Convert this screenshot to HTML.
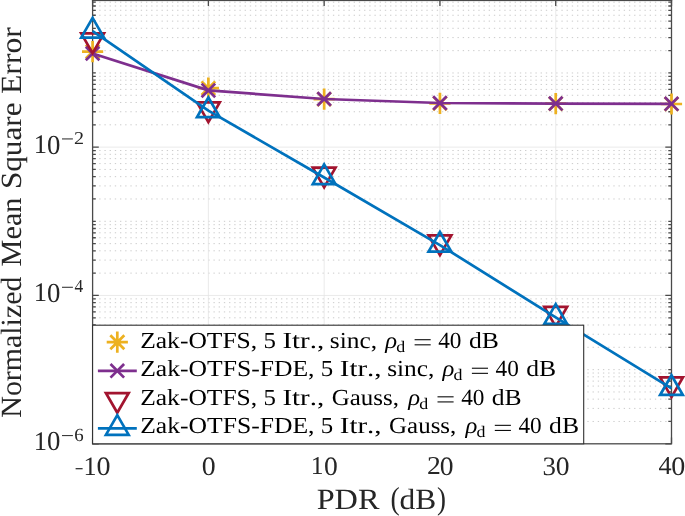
<!DOCTYPE html><html><head><meta charset="utf-8"><style>html,body{margin:0;padding:0;background:#fff;overflow:hidden;}svg{display:block;will-change:transform;}text{font-family:"Liberation Serif",serif;font-kerning:none;text-rendering:geometricPrecision;}</style></head><body>
<svg width="685" height="516" viewBox="0 0 685 516">
<rect x="0" y="0" width="685" height="516" fill="#fff"/>
<path d="M94.05 421.47H671.3M94.05 408.41H671.3M94.05 399.15H671.3M94.05 391.96H671.3M94.05 386.09H671.3M94.05 381.12H671.3M94.05 376.82H671.3M94.05 373.03H671.3M94.05 347.31H671.3M94.05 334.25H671.3M94.05 324.98H671.3M94.05 317.79H671.3M94.05 311.92H671.3M94.05 306.96H671.3M94.05 302.65H671.3M94.05 298.86H671.3M94.05 369.63H671.3M94.05 273.14H671.3M94.05 260.08H671.3M94.05 250.81H671.3M94.05 243.63H671.3M94.05 237.75H671.3M94.05 232.79H671.3M94.05 228.49H671.3M94.05 224.69H671.3M94.05 198.97H671.3M94.05 185.91H671.3M94.05 176.65H671.3M94.05 169.46H671.3M94.05 163.59H671.3M94.05 158.62H671.3M94.05 154.32H671.3M94.05 150.53H671.3M94.05 221.3H671.3M94.05 124.81H671.3M94.05 111.75H671.3M94.05 102.48H671.3M94.05 95.29H671.3M94.05 89.42H671.3M94.05 84.46H671.3M94.05 80.15H671.3M94.05 76.36H671.3M94.05 50.64H671.3M94.05 37.58H671.3M94.05 28.31H671.3M94.05 21.13H671.3M94.05 15.25H671.3M94.05 10.29H671.3M94.05 5.99H671.3M94.05 2.19H671.3M94.05 72.97H671.3" stroke="#a8a8a8" stroke-width="0.6" stroke-dasharray="1.3 3.893" fill="none"/>
<path d="M92.6 295.47H671.5M92.6 147.13H671.5M208.38 -1.2V443.8M324.16 -1.2V443.8M439.94 -1.2V443.8M555.72 -1.2V443.8" stroke="#e4e4e4" stroke-width="0.8" fill="none"/>
<path d="M92.6 443.8V437.6M92.6 -1.2V6.1M208.38 443.8V437.6M208.38 -1.2V6.1M324.16 443.8V437.6M324.16 -1.2V6.1M439.94 443.8V437.6M439.94 -1.2V6.1M555.72 443.8V437.6M555.72 -1.2V6.1M671.5 443.8V437.6M671.5 -1.2V6.1M92.6 443.8H98.8M671.5 443.8H665.3M92.6 421.47H95.8M671.5 421.47H668.3M92.6 408.41H95.8M671.5 408.41H668.3M92.6 399.15H95.8M671.5 399.15H668.3M92.6 391.96H95.8M671.5 391.96H668.3M92.6 386.09H95.8M671.5 386.09H668.3M92.6 381.12H95.8M671.5 381.12H668.3M92.6 376.82H95.8M671.5 376.82H668.3M92.6 373.03H95.8M671.5 373.03H668.3M92.6 369.63H95.8M671.5 369.63H668.3M92.6 347.31H95.8M671.5 347.31H668.3M92.6 334.25H95.8M671.5 334.25H668.3M92.6 324.98H95.8M671.5 324.98H668.3M92.6 317.79H95.8M671.5 317.79H668.3M92.6 311.92H95.8M671.5 311.92H668.3M92.6 306.96H95.8M671.5 306.96H668.3M92.6 302.65H95.8M671.5 302.65H668.3M92.6 298.86H95.8M671.5 298.86H668.3M92.6 295.47H98.8M671.5 295.47H665.3M92.6 273.14H95.8M671.5 273.14H668.3M92.6 260.08H95.8M671.5 260.08H668.3M92.6 250.81H95.8M671.5 250.81H668.3M92.6 243.63H95.8M671.5 243.63H668.3M92.6 237.75H95.8M671.5 237.75H668.3M92.6 232.79H95.8M671.5 232.79H668.3M92.6 228.49H95.8M671.5 228.49H668.3M92.6 224.69H95.8M671.5 224.69H668.3M92.6 221.3H95.8M671.5 221.3H668.3M92.6 198.97H95.8M671.5 198.97H668.3M92.6 185.91H95.8M671.5 185.91H668.3M92.6 176.65H95.8M671.5 176.65H668.3M92.6 169.46H95.8M671.5 169.46H668.3M92.6 163.59H95.8M671.5 163.59H668.3M92.6 158.62H95.8M671.5 158.62H668.3M92.6 154.32H95.8M671.5 154.32H668.3M92.6 150.53H95.8M671.5 150.53H668.3M92.6 147.13H98.8M671.5 147.13H665.3M92.6 124.81H95.8M671.5 124.81H668.3M92.6 111.75H95.8M671.5 111.75H668.3M92.6 102.48H95.8M671.5 102.48H668.3M92.6 95.29H95.8M671.5 95.29H668.3M92.6 89.42H95.8M671.5 89.42H668.3M92.6 84.46H95.8M671.5 84.46H668.3M92.6 80.15H95.8M671.5 80.15H668.3M92.6 76.36H95.8M671.5 76.36H668.3M92.6 72.97H95.8M671.5 72.97H668.3M92.6 50.64H95.8M671.5 50.64H668.3M92.6 37.58H95.8M671.5 37.58H668.3M92.6 28.31H95.8M671.5 28.31H668.3M92.6 21.13H95.8M671.5 21.13H668.3M92.6 15.25H95.8M671.5 15.25H668.3M92.6 10.29H95.8M671.5 10.29H668.3M92.6 5.99H95.8M671.5 5.99H668.3M92.6 2.19H95.8M671.5 2.19H668.3M92.6 -1.2H98.8M671.5 -1.2H665.3" stroke="#4a4a4a" stroke-width="1.3" fill="none"/>
<rect x="92.6" y="-1.2" width="578.9" height="445" stroke="#4a4a4a" stroke-width="1.3" fill="none"/>
<rect x="91.95" y="0" width="580.2" height="1.1" fill="#4a4a4a"/>
<path d="M82 51.6L103.2 51.6M92.6 41L92.6 62.2M85.8 44.8L99.4 58.4M85.8 58.4L99.4 44.8" stroke="#EDB120" stroke-width="2.7" fill="none"/>
<path d="M197.78 88.2L218.98 88.2M208.38 77.6L208.38 98.8M201.58 81.4L215.18 95M201.58 95L215.18 81.4" stroke="#EDB120" stroke-width="2.7" fill="none"/>
<path d="M313.56 99.2L334.76 99.2M324.16 88.6L324.16 109.8M317.36 92.4L330.96 106M317.36 106L330.96 92.4" stroke="#EDB120" stroke-width="2.7" fill="none"/>
<path d="M429.34 103.4L450.54 103.4M439.94 92.8L439.94 114M433.14 96.6L446.74 110.2M433.14 110.2L446.74 96.6" stroke="#EDB120" stroke-width="2.7" fill="none"/>
<path d="M545.12 103.7L566.32 103.7M555.72 93.1L555.72 114.3M548.92 96.9L562.52 110.5M548.92 110.5L562.52 96.9" stroke="#EDB120" stroke-width="2.7" fill="none"/>
<path d="M660.9 104L682.1 104M671.5 93.4L671.5 114.6M664.7 97.2L678.3 110.8M664.7 110.8L678.3 97.2" stroke="#EDB120" stroke-width="2.7" fill="none"/>
<polyline points="92.6,53.5 208.38,90.4 324.16,99 439.94,103 555.72,103.6 671.5,103.8" stroke="#7E2F8E" stroke-width="2.7" fill="none" stroke-linejoin="round"/>
<path d="M85.8 46.7L99.4 60.3M85.8 60.3L99.4 46.7" stroke="#7E2F8E" stroke-width="2.7" fill="none"/>
<path d="M201.58 83.6L215.18 97.2M201.58 97.2L215.18 83.6" stroke="#7E2F8E" stroke-width="2.7" fill="none"/>
<path d="M317.36 92.2L330.96 105.8M317.36 105.8L330.96 92.2" stroke="#7E2F8E" stroke-width="2.7" fill="none"/>
<path d="M433.14 96.2L446.74 109.8M433.14 109.8L446.74 96.2" stroke="#7E2F8E" stroke-width="2.7" fill="none"/>
<path d="M548.92 96.8L562.52 110.4M548.92 110.4L562.52 96.8" stroke="#7E2F8E" stroke-width="2.7" fill="none"/>
<path d="M664.7 97L678.3 110.6M664.7 110.6L678.3 97" stroke="#7E2F8E" stroke-width="2.7" fill="none"/>
<path d="M92.6 53.05 L81.21 33.32 L103.99 33.32Z" stroke="#A2142F" stroke-width="2.7" fill="none" stroke-linejoin="miter"/>
<path d="M208.38 122.15 L196.99 102.42 L219.77 102.42Z" stroke="#A2142F" stroke-width="2.7" fill="none" stroke-linejoin="miter"/>
<path d="M324.16 187.35 L312.77 167.62 L335.55 167.62Z" stroke="#A2142F" stroke-width="2.7" fill="none" stroke-linejoin="miter"/>
<path d="M439.94 255.15 L428.55 235.43 L451.33 235.43Z" stroke="#A2142F" stroke-width="2.7" fill="none" stroke-linejoin="miter"/>
<path d="M555.72 326.55 L544.33 306.82 L567.11 306.82Z" stroke="#A2142F" stroke-width="2.7" fill="none" stroke-linejoin="miter"/>
<path d="M671.5 397.15 L660.11 377.43 L682.89 377.43Z" stroke="#A2142F" stroke-width="2.7" fill="none" stroke-linejoin="miter"/>
<polyline points="92.6,31.1 208.38,110.6 324.16,177.5 439.94,245.1 555.72,317.3 671.5,388.4" stroke="#0072BD" stroke-width="2.7" fill="none" stroke-linejoin="round"/>
<path d="M92.6 17.95 L81.21 37.68 L103.99 37.68Z" stroke="#0072BD" stroke-width="2.7" fill="none" stroke-linejoin="miter"/>
<path d="M208.38 97.45 L196.99 117.17 L219.77 117.17Z" stroke="#0072BD" stroke-width="2.7" fill="none" stroke-linejoin="miter"/>
<path d="M324.16 164.35 L312.77 184.07 L335.55 184.07Z" stroke="#0072BD" stroke-width="2.7" fill="none" stroke-linejoin="miter"/>
<path d="M439.94 231.95 L428.55 251.67 L451.33 251.67Z" stroke="#0072BD" stroke-width="2.7" fill="none" stroke-linejoin="miter"/>
<path d="M555.72 304.15 L544.33 323.88 L567.11 323.88Z" stroke="#0072BD" stroke-width="2.7" fill="none" stroke-linejoin="miter"/>
<path d="M671.5 375.25 L660.11 394.97 L682.89 394.97Z" stroke="#0072BD" stroke-width="2.7" fill="none" stroke-linejoin="miter"/>
<rect x="92.6" y="325.2" width="491.1" height="118.6" fill="#fff" stroke="#303030" stroke-width="1.1"/>
<path d="M106.7 342.2L127.9 342.2M117.3 331.6L117.3 352.8M110.3 335.2L124.3 349.2M110.3 349.2L124.3 335.2" stroke="#EDB120" stroke-width="2.7" fill="none"/>
<path d="M97.9 370.8H136.8" stroke="#7E2F8E" stroke-width="2.7"/>
<path d="M110.5 364L124.1 377.6M110.5 377.6L124.1 364" stroke="#7E2F8E" stroke-width="2.7" fill="none"/>
<path d="M117.3 412.75 L105.91 393.03 L128.69 393.03Z" stroke="#A2142F" stroke-width="2.7" fill="none" stroke-linejoin="miter"/>
<path d="M97.9 428.3H136.8" stroke="#0072BD" stroke-width="2.7"/>
<path d="M117.3 415.15 L105.91 434.88 L128.69 434.88Z" stroke="#0072BD" stroke-width="2.7" fill="none" stroke-linejoin="miter"/>
<text transform="translate(140.18 347.7) scale(1.1102 1)" font-size="23" fill="#000000">Zak-OTFS,</text>
<text transform="translate(263.46 347.7) scale(1.0793 1)" font-size="23" fill="#000000">5</text>
<text transform="translate(282.45 347.7) scale(1.2577 1)" font-size="23" fill="#000000">Itr.,</text>
<text transform="translate(329.86 347.7) scale(1.1038 1)" font-size="23" fill="#000000">sinc,</text>
<text transform="translate(385.23 347.7) scale(1.0707 1)" font-size="23" fill="#000000" font-style="italic">ρ</text>
<text transform="translate(396.25 351.5) scale(1.1070 1)" font-size="16.2" fill="#000000">d</text>
<rect x="414.6" y="339.2" width="16.1" height="1.05" fill="#000000"/><rect x="414.6" y="344.3" width="16.1" height="1.05" fill="#000000"/>
<text transform="translate(438.25 347.7) scale(1.0104 1)" font-size="23" fill="#000000">40</text>
<text transform="translate(468.88 347.7) scale(1.1130 1)" font-size="23" fill="#000000">dB</text>
<text transform="translate(140.17 376.2) scale(1.1139 1)" font-size="23" fill="#000000">Zak-OTFS-FDE,</text>
<text transform="translate(320.76 376.2) scale(1.0793 1)" font-size="23" fill="#000000">5</text>
<text transform="translate(339.75 376.2) scale(1.2577 1)" font-size="23" fill="#000000">Itr.,</text>
<text transform="translate(387.16 376.2) scale(1.1038 1)" font-size="23" fill="#000000">sinc,</text>
<text transform="translate(442.53 376.2) scale(1.0707 1)" font-size="23" fill="#000000" font-style="italic">ρ</text>
<text transform="translate(453.55 380) scale(1.1070 1)" font-size="16.2" fill="#000000">d</text>
<rect x="471.9" y="367.7" width="16.1" height="1.05" fill="#000000"/><rect x="471.9" y="372.8" width="16.1" height="1.05" fill="#000000"/>
<text transform="translate(495.55 376.2) scale(1.0104 1)" font-size="23" fill="#000000">40</text>
<text transform="translate(526.18 376.2) scale(1.1130 1)" font-size="23" fill="#000000">dB</text>
<text transform="translate(140.18 404.8) scale(1.1102 1)" font-size="23" fill="#000000">Zak-OTFS,</text>
<text transform="translate(263.46 404.8) scale(1.0793 1)" font-size="23" fill="#000000">5</text>
<text transform="translate(282.45 404.8) scale(1.2577 1)" font-size="23" fill="#000000">Itr.,</text>
<text transform="translate(331.78 404.8) scale(1.0843 1)" font-size="23" fill="#000000">Gauss,</text>
<text transform="translate(408.13 404.8) scale(1.0707 1)" font-size="23" fill="#000000" font-style="italic">ρ</text>
<text transform="translate(419.15 408.6) scale(1.1070 1)" font-size="16.2" fill="#000000">d</text>
<rect x="437.5" y="396.3" width="16.1" height="1.05" fill="#000000"/><rect x="437.5" y="401.4" width="16.1" height="1.05" fill="#000000"/>
<text transform="translate(461.15 404.8) scale(1.0104 1)" font-size="23" fill="#000000">40</text>
<text transform="translate(491.77 404.8) scale(1.1130 1)" font-size="23" fill="#000000">dB</text>
<text transform="translate(140.17 433.3) scale(1.1139 1)" font-size="23" fill="#000000">Zak-OTFS-FDE,</text>
<text transform="translate(320.76 433.3) scale(1.0793 1)" font-size="23" fill="#000000">5</text>
<text transform="translate(339.75 433.3) scale(1.2577 1)" font-size="23" fill="#000000">Itr.,</text>
<text transform="translate(389.08 433.3) scale(1.0843 1)" font-size="23" fill="#000000">Gauss,</text>
<text transform="translate(465.43 433.3) scale(1.0707 1)" font-size="23" fill="#000000" font-style="italic">ρ</text>
<text transform="translate(476.45 437.1) scale(1.1070 1)" font-size="16.2" fill="#000000">d</text>
<rect x="494.8" y="424.8" width="16.1" height="1.05" fill="#000000"/><rect x="494.8" y="429.9" width="16.1" height="1.05" fill="#000000"/>
<text transform="translate(518.45 433.3) scale(1.0104 1)" font-size="23" fill="#000000">40</text>
<text transform="translate(549.08 433.3) scale(1.1130 1)" font-size="23" fill="#000000">dB</text>
<text transform="translate(83.5 474.5) scale(1.0051 1.0254)" font-size="26" fill="#262626">1</text>
<text transform="translate(96.43 474.54) scale(1.0799 1.0202)" font-size="26" fill="#262626">0</text>
<text transform="translate(201.64 474.54) scale(1.0708 1.0202)" font-size="26" fill="#262626">0</text>
<text transform="translate(310.82 474) scale(0.9822 0.9963)" font-size="26" fill="#262626">1</text>
<text transform="translate(324.05 474.54) scale(1.0618 1.0202)" font-size="26" fill="#262626">0</text>
<text transform="translate(426.88 474) scale(1.0650 0.9933)" font-size="26" fill="#262626">2</text>
<text transform="translate(439.65 474.54) scale(1.0618 1.0202)" font-size="26" fill="#262626">0</text>
<text transform="translate(542.51 474.54) scale(1.0335 1.0247)" font-size="26" fill="#262626">3</text>
<text transform="translate(555.65 474.54) scale(1.0618 1.0202)" font-size="26" fill="#262626">0</text>
<text transform="translate(658.49 474) scale(1.0094 0.9992)" font-size="26" fill="#262626">4</text>
<text transform="translate(671.23 474.54) scale(1.0799 1.0202)" font-size="26" fill="#262626">0</text>
<rect x="75.6" y="468.1" width="7.0" height="1.2" fill="#262626"/>
<text transform="translate(33.63 153.13) scale(1.0204 1.0312)" font-size="26" fill="#262626">1</text>
<text transform="translate(46.93 153.56) scale(1.0300 1.0601)" font-size="26" fill="#262626">0</text>
<rect x="62.0" y="138.43" width="10.9" height="1.0" fill="#262626"/>
<text transform="translate(74.07 143.63) scale(1.1475 1.0357)" font-size="17.5" fill="#262626">2</text>
<text transform="translate(33.63 301.47) scale(1.0204 1.0312)" font-size="26" fill="#262626">1</text>
<text transform="translate(46.93 301.9) scale(1.0300 1.0601)" font-size="26" fill="#262626">0</text>
<rect x="62.0" y="286.77" width="10.9" height="1.0" fill="#262626"/>
<text transform="translate(74.61 291.97) scale(0.9896 1.0418)" font-size="17.5" fill="#262626">4</text>
<text transform="translate(33.63 449.8) scale(1.0204 1.0312)" font-size="26" fill="#262626">1</text>
<text transform="translate(46.93 450.23) scale(1.0300 1.0601)" font-size="26" fill="#262626">0</text>
<rect x="62.0" y="435.1" width="10.9" height="1.0" fill="#262626"/>
<text transform="translate(74.14 440.62) scale(1.0767 1.0631)" font-size="17.5" fill="#262626">6</text>
<text transform="translate(316.67 508.8) scale(1.1014 1)" font-size="29.3" fill="#262626">PDR</text>
<text transform="translate(399.56 508.8) scale(1.0724 1)" font-size="29.3" fill="#262626">dB</text>
<text transform="translate(390.49 509.21) scale(0.9435 1.0878)" font-size="29.3" fill="#262626">(</text>
<text transform="translate(436.93 509.21) scale(0.9169 1.0878)" font-size="29.3" fill="#262626">)</text>
<text transform="translate(20.5 417.66) rotate(-90) scale(1.0197 1)" font-size="29.3" fill="#262626">Normalized</text>
<text transform="translate(20.5 266.47) rotate(-90) scale(1.0333 1)" font-size="29.3" fill="#262626">Mean</text>
<text transform="translate(20.5 189.09) rotate(-90) scale(1.0640 1)" font-size="29.3" fill="#262626">Square</text>
<text transform="translate(20.5 94.01) rotate(-90) scale(1.0821 1)" font-size="29.3" fill="#262626">Error</text>
</svg></body></html>
